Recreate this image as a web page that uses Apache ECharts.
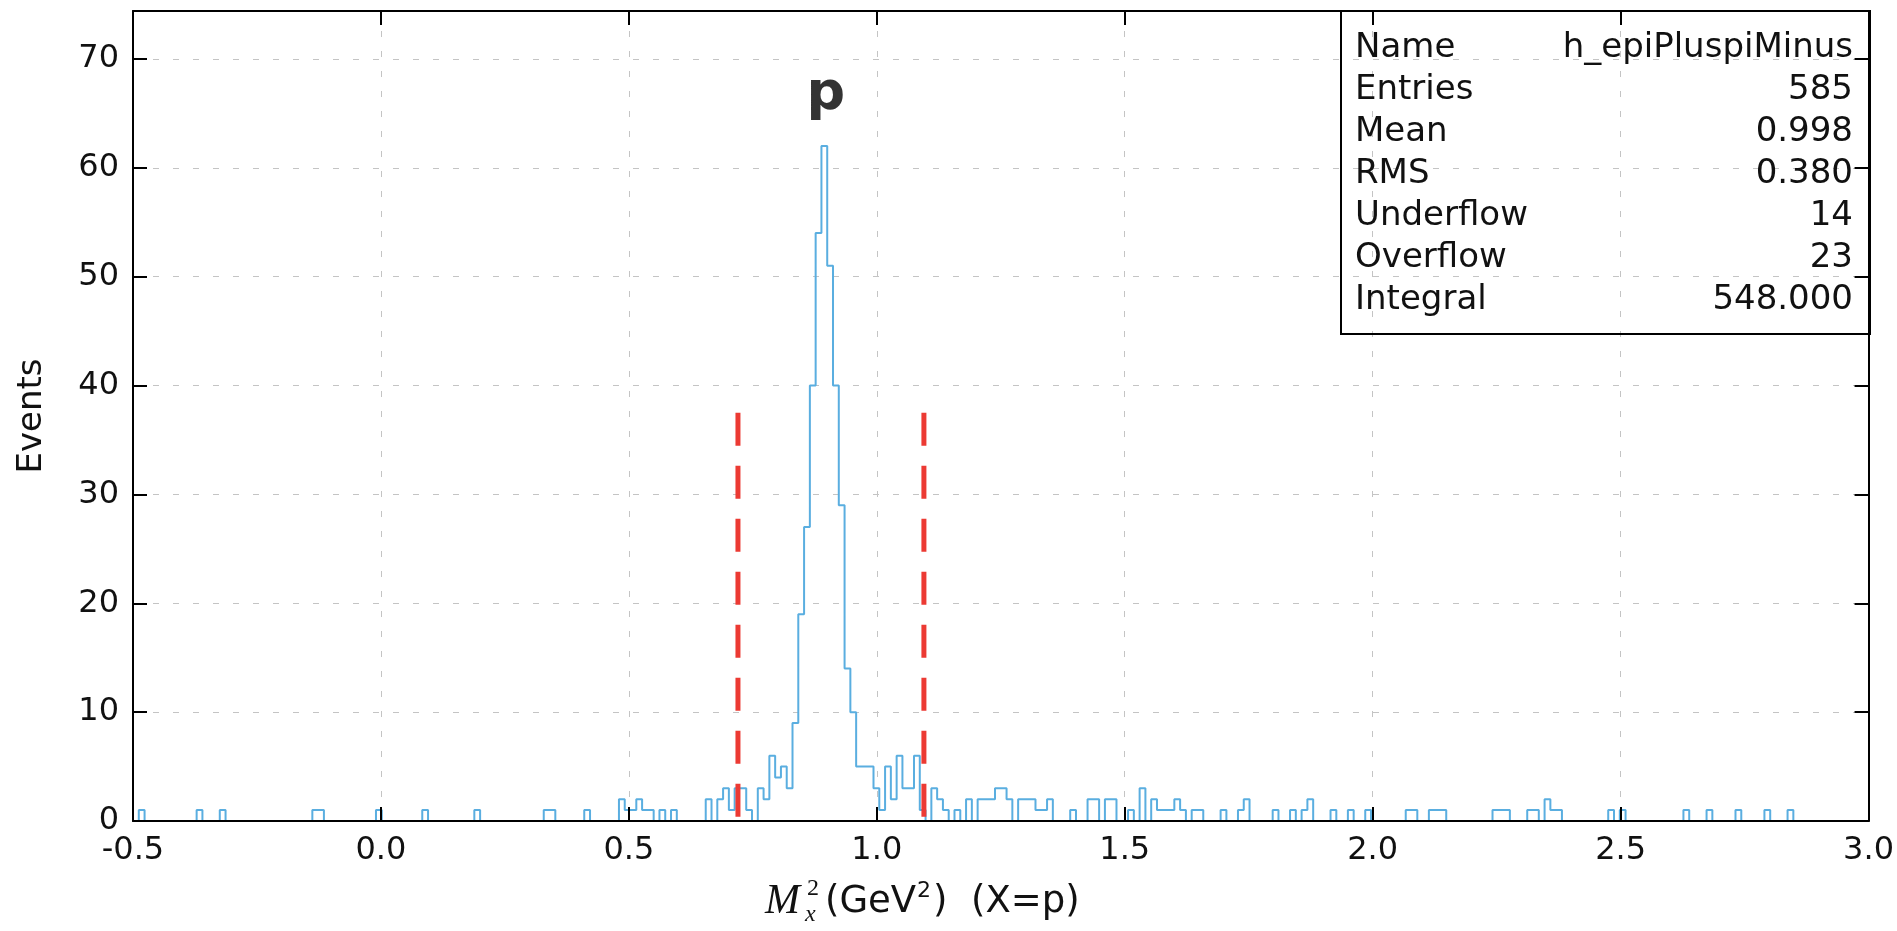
<!DOCTYPE html>
<html>
<head>
<meta charset="utf-8">
<script src="https://cdn.jsdelivr.net/npm/echarts@6/dist/echarts.min.js"></script>
<style>
  html, body { margin: 0; padding: 0; background: #fff; }
  #chart { width: 1897px; height: 931px; }
</style>
</head>
<body>
<div id="chart"></div>
<script>
// histogram binning (h_epiPluspiMinus)
const binLo = -0.5;
const binHi = 3.0;
const nBins = 300;

// non-empty bins: bin index and entries
const filledBins = [
  1, 11, 15, 31, 32, 42, 50, 59, 71, 72, 78,
  84, 85, 86, 87, 88, 89, 91, 93,
  99, 101, 102, 103, 104, 105, 106, 108, 109, 110, 111, 112, 113,
  114, 115, 116, 117, 118, 119, 120, 121, 122, 123, 124,
  125, 126, 127, 128, 129, 130, 131, 132, 133, 134, 135, 136,
  138, 139, 140, 142, 144, 146, 147, 148, 149, 150, 151, 153, 154, 155, 156, 157, 158,
  162, 165, 166, 168, 169, 172, 174, 176, 177, 178, 179, 180, 181, 183, 184, 188,
  191, 192, 197, 200, 202, 203, 207, 210, 213, 220, 221, 224, 225, 226,
  235, 236, 237, 241, 242, 244, 245, 246, 255, 257, 268, 272, 277, 282, 286
];
const filledCounts = [
  1, 1, 1, 1, 1, 1, 1, 1, 1, 1, 1,
  2, 1, 1, 2, 1, 1, 1, 1,
  2, 2, 3, 1, 3, 3, 1, 3, 2, 6, 4, 5, 3,
  9, 19, 27, 40, 54, 62, 51, 40, 29, 14, 10,
  5, 5, 5, 3, 1, 5, 2, 6, 3, 3, 6, 1,
  3, 2, 1, 1, 2, 2, 2, 2, 3, 3, 2, 2, 2, 2, 1, 1, 2,
  1, 2, 2, 2, 2, 1, 3, 2, 1, 1, 1, 2, 1, 1, 1, 1,
  1, 2, 1, 1, 1, 2, 1, 1, 1, 1, 1, 1, 1, 1,
  1, 1, 1, 1, 1, 2, 1, 1, 1, 1, 1, 1, 1, 1, 1
];

// selection cuts (red dashed)
const cutX = [0.72, 1.095];
const cutTop = 37.5;
const cutBottom = 0.4;

// peak annotation
const peakText = 'p';
const peakPos = [0.897, 66.7];

// stats box
const statNames = ['Name', 'Entries', 'Mean', 'RMS', 'Underflow', 'Overflow', 'Integral'];
const statValues = ['h_epiPluspiMinus', '585', '0.998', '0.380', '14', '23', '548.000'];

const yMax = 74.4;

const FONT = 'DejaVu Sans';
const MATH = 'Liberation Serif';
const TXT = '#111';

// build the step outline, leaving empty stretches undrawn so the black axis shows
const binW = (binHi - binLo) / nBins;
const counts = new Array(nBins).fill(0);
filledBins.forEach((b, k) => { counts[b] = filledCounts[k]; });
const outline = [];
for (let i = 0; i < nBins; i++) {
  const c = counts[i];
  if (c <= 0) continue;
  const x0 = binLo + i * binW;
  const x1 = x0 + binW;
  const prev = i > 0 ? counts[i - 1] : 0;
  const next = i < nBins - 1 ? counts[i + 1] : 0;
  if (prev === 0) outline.push([x0, 0]);
  outline.push([x0, c], [x1, c]);
  if (next === 0) {
    outline.push([x1, 0]);
    outline.push([x1, '-']);
  }
}

const chart = echarts.init(document.getElementById('chart'));

const frameLine = { show: true, onZero: false, lineStyle: { color: '#000', width: 2 } };
const frameTick = { show: true, inside: true, length: 14, lineStyle: { color: '#000', width: 2 } };
const gridLine = { show: true, lineStyle: { color: '#c4c4c4', width: 1, type: [6, 14] } };

const cutSeries = cutX.map((x) => ({
  type: 'line',
  xAxisIndex: 0,
  yAxisIndex: 0,
  data: [[x, cutTop], [x, cutBottom]],
  symbol: 'none',
  silent: true,
  z: 4,
  lineStyle: { color: '#ec3a33', width: 5, type: [33, 20], cap: 'butt' }
}));

// stats box graphics
const boxLeft = 1341, boxTop = 11, boxRight = 1870, boxBottom = 334;
const rowY0 = 48, rowStep = 42;
const statGraphics = [{
  type: 'rect',
  shape: { x: boxLeft, y: boxTop, width: boxRight - boxLeft, height: boxBottom - boxTop },
  style: { fill: 'none', stroke: '#000', lineWidth: 2 },
  z: 10
}];
statNames.forEach((n, k) => {
  statGraphics.push({
    type: 'text', x: 1355, y: rowY0 + k * rowStep, z: 10,
    style: { text: n, fontFamily: FONT, fontSize: 34, fill: TXT, align: 'left', verticalAlign: 'middle' }
  });
  statGraphics.push({
    type: 'text', x: 1853, y: rowY0 + k * rowStep, z: 10,
    style: { text: statValues[k], fontFamily: FONT, fontSize: 34, fill: TXT, align: 'right', verticalAlign: 'middle' }
  });
});

// x axis title  M_x^2 (GeV^2) (X=p)
const titleY = 902;
const tText = (s, x, dy, size, family, italic) => ({
  type: 'text', x: x, y: titleY + dy, z: 10,
  style: {
    text: s, fontFamily: family, fontSize: size, fontStyle: italic ? 'italic' : 'normal',
    fill: TXT, align: 'left', verticalAlign: 'middle'
  }
});
const titleGraphics = [
  tText('M', 765, 0, 42, MATH, true),
  tText('2', 807, -13, 24, MATH, false),
  tText('x', 805, 13, 24, MATH, true),
  tText('(GeV', 825, 0, 37, FONT, false),
  tText('2', 917, -11, 22, FONT, false),
  tText(')', 933, 0, 37, FONT, false),
  tText('(X=p)', 971, 0, 37, FONT, false)
];

const option = {
  animation: false,
  backgroundColor: '#ffffff',
  grid: { left: 133, right: 28, top: 11, bottom: 110, containLabel: false },
  xAxis: [
    {
      type: 'value', min: binLo, max: binHi, interval: 0.5, position: 'bottom', z: 3,
      axisLine: frameLine, axisTick: frameTick,
      axisLabel: { margin: 14, fontFamily: FONT, fontSize: 32, color: TXT, formatter: (v) => v.toFixed(1) },
      splitLine: { show: false }
    },
    {
      type: 'value', min: binLo, max: binHi, interval: 0.5, position: 'top', z: 0,
      axisLine: frameLine, axisTick: frameTick,
      axisLabel: { show: false },
      splitLine: gridLine
    }
  ],
  yAxis: [
    {
      type: 'value', min: 0, max: yMax, interval: 10, position: 'left',
      name: 'Events', nameLocation: 'middle', nameGap: 84, nameRotate: 90,
      nameTextStyle: { fontFamily: FONT, fontSize: 34, color: TXT },
      axisLine: frameLine, axisTick: frameTick,
      axisLabel: { margin: 14, fontFamily: FONT, fontSize: 32, color: TXT, showMaxLabel: false },
      splitLine: gridLine
    },
    {
      type: 'value', min: 0, max: yMax, interval: 10, position: 'right',
      axisLine: frameLine, axisTick: frameTick,
      axisLabel: { show: false }, splitLine: { show: false }
    }
  ],
  graphic: statGraphics.concat(titleGraphics),
  series: [
    {
      type: 'line',
      xAxisIndex: 0,
      yAxisIndex: 0,
      data: outline,
      symbol: 'none',
      connectNulls: false,
      silent: true,
      z: 2,
      lineStyle: { color: '#5aaee0', width: 2 }
    },
    ...cutSeries,
    {
      type: 'scatter',
      xAxisIndex: 0,
      yAxisIndex: 0,
      data: [peakPos],
      symbolSize: 1,
      itemStyle: { color: 'rgba(0,0,0,0)' },
      silent: true,
      label: {
        show: true, position: 'inside', formatter: peakText,
        fontFamily: FONT, fontSize: 54, fontWeight: 'bold', color: '#000'
      }
    }
  ]
};

chart.setOption(option);
</script>
</body>
</html>
